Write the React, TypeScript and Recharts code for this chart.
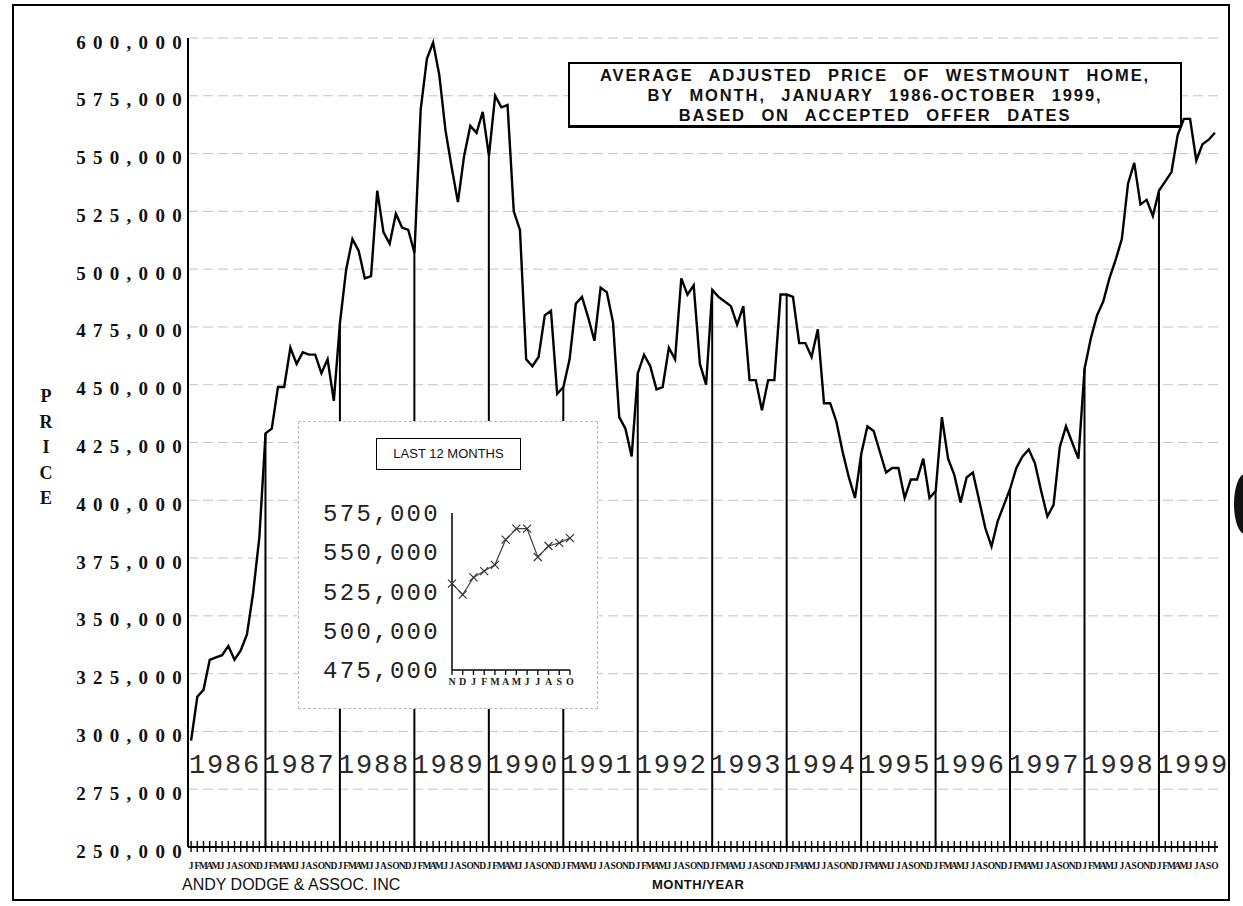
import React from 'react';
import { ComposedChart, LineChart, Line, Bar, XAxis, YAxis, CartesianGrid } from 'recharts';

// monthly average adjusted price, in thousands of dollars
const YEARS = [1986, 1987, 1988, 1989, 1990, 1991, 1992, 1993, 1994, 1995, 1996, 1997, 1998, 1999];
const MONTH_LETTERS = ['J', 'F', 'M', 'A', 'M', 'J', 'J', 'A', 'S', 'O', 'N', 'D'];

const PRICE_1986 = [296, 315, 318, 331, 332, 333, 337, 331, 335, 342, 360, 384];
const PRICE_1987 = [429, 431, 449, 449, 466, 459, 464, 463, 463, 455, 461, 443];
const PRICE_1988 = [477, 500, 513, 508, 496, 497, 534, 516, 511, 524, 518, 517];
const PRICE_1989 = [507, 569, 591, 598, 584, 560, 544, 529, 549, 562, 559, 568];
const PRICE_1990 = [549, 575, 570, 571, 525, 517, 461, 458, 462, 480, 482, 446];
const PRICE_1991 = [449, 461, 485, 488, 479, 469, 492, 490, 477, 436, 431, 419];
const PRICE_1992 = [455, 463, 458, 448, 449, 466, 461, 496, 489, 493, 459, 450];
const PRICE_1993 = [491, 488, 486, 484, 476, 484, 452, 452, 439, 452, 452, 489];
const PRICE_1994 = [489, 488, 468, 468, 462, 474, 442, 442, 434, 421, 410, 401];
const PRICE_1995 = [420, 432, 430, 421, 412, 414, 414, 401, 409, 409, 418, 401];
const PRICE_1996 = [404, 436, 418, 411, 399, 410, 412, 400, 388, 380, 391, 398];
const PRICE_1997 = [405, 414, 419, 422, 416, 404, 393, 398, 423, 432, 425, 418];
const PRICE_1998 = [457, 470, 480, 486, 496, 504, 513, 537, 546, 528, 530, 523];
const PRICE_1999 = [534, 538, 542, 558, 565, 565, 547, 554, 556, 559];

const PRICES_BY_YEAR = [
  PRICE_1986, PRICE_1987, PRICE_1988, PRICE_1989, PRICE_1990, PRICE_1991, PRICE_1992,
  PRICE_1993, PRICE_1994, PRICE_1995, PRICE_1996, PRICE_1997, PRICE_1998, PRICE_1999,
];

const PRICE_TICKS = [250000, 275000, 300000, 325000, 350000, 375000, 400000, 425000, 450000, 475000, 500000, 525000, 550000, 575000, 600000];
const INSET_TICKS = [475000, 500000, 525000, 550000, 575000];
const INSET_MONTHS = ['N', 'D', 'J', 'F', 'M', 'A', 'M', 'J', 'J', 'A', 'S', 'O'];

const rows = PRICES_BY_YEAR.flatMap((list, yi) =>
  list.map((k, m) => ({
    idx: yi * 12 + m,
    year: YEARS[yi],
    month: m,
    price: k * 1000,
    jan: m === 0 && yi > 0 ? k * 1000 : null,
  }))
);

const insetRows = rows.slice(-12).map((r, i) => ({ m: INSET_MONTHS[i], price: r.price }));

const fmt = (v: number) => v.toLocaleString('en-US');

const PriceTick = (props: any) => {
  const { y, payload } = props;
  return (
    <text x={189} y={y + 10.5} textAnchor="end" fontFamily="Liberation Serif" fontWeight="bold"
      fontSize={19} letterSpacing={7.3} fill="#111">
      {fmt(payload.value)}
    </text>
  );
};

const MonthTick = (props: any) => {
  const { x, y, payload } = props;
  const row = rows[payload.value];
  if (!row) return null;
  return (
    <g>
      <line x1={x} x2={x} y1={y - 6} y2={y + 5} stroke="#000" strokeWidth={1.4} />
      <text x={x} y={y + 22} textAnchor="middle" fontSize={9.5} fontWeight="bold" fontFamily="Liberation Serif" fill="#111">
        {MONTH_LETTERS[row.month]}
      </text>
      {row.month === 0 && (
        <text x={x - 2} y={y - 74} fontFamily="Liberation Mono" fontSize={27} letterSpacing={1.8} fill="#2a2a2a">
          {row.year}
        </text>
      )}
    </g>
  );
};

const InsetPriceTick = (props: any) => {
  const { y, payload } = props;
  return (
    <text x={142} y={y + 8} textAnchor="end" fontFamily="Liberation Mono" fontSize={24}
      letterSpacing={2.3} fill="#222">
      {fmt(payload.value)}
    </text>
  );
};

const InsetMonthTick = (props: any) => {
  const { x, y, payload } = props;
  return (
    <text x={x} y={y + 9} textAnchor="middle" fontFamily="Liberation Serif" fontWeight="bold" fontSize={10} fill="#222">
      {payload.value}
    </text>
  );
};

const CrossDot = (props: any) => {
  const { cx, cy, index } = props;
  if (cx == null || cy == null) return null;
  return (
    <path key={`x-${index}`} d={`M${cx - 4},${cy - 4}L${cx + 4},${cy + 4}M${cx + 4},${cy - 4}L${cx - 4},${cy + 4}`}
      stroke="#333" strokeWidth={1.2} fill="none" />
  );
};

const abs = (s: React.CSSProperties): React.CSSProperties => ({ position: 'absolute', ...s });

export default function App() {
  return (
    <div style={{ position: 'absolute', left: 0, top: 0, width: 1243, height: 906, background: '#fff', overflow: 'hidden' }}>
      <ComposedChart width={1243} height={906} data={rows} margin={{ top: 38, right: 25, left: 0, bottom: 29 }}>
        <CartesianGrid vertical={false} stroke="#c4c4c4" strokeDasharray="10 5" />
        <YAxis domain={[250000, 600000]} ticks={PRICE_TICKS} width={188} interval={0}
          axisLine={{ stroke: '#000', strokeWidth: 2 }} tickLine={false} tickSize={0} tickMargin={0}
          tick={<PriceTick />} />
        <XAxis dataKey="idx" height={30} interval={0} axisLine={{ stroke: '#000', strokeWidth: 2 }}
          tickLine={false} tickSize={0} tickMargin={0} tick={<MonthTick />} />
        <Bar dataKey="jan" fill="#000" barSize={2} isAnimationActive={false} />
        <Line type="linear" dataKey="price" stroke="#000" strokeWidth={2.4} dot={false} isAnimationActive={false} />
      </ComposedChart>

      {/* outer frame */}
      <div style={abs({ left: 12, top: 4, width: 1218, height: 897, border: '2px solid #000', boxSizing: 'border-box', pointerEvents: 'none' })} />

      {/* title */}
      <div style={abs({
        left: 568, top: 62, width: 614, height: 66, border: '2px solid #000', borderBottomWidth: 3, boxSizing: 'border-box',
        background: '#fff', fontFamily: 'Liberation Sans', fontWeight: 'bold', fontSize: 16.5, textAlign: 'center',
        lineHeight: '20px', paddingTop: 1, letterSpacing: 1.9, wordSpacing: 9, color: '#111', whiteSpace: 'nowrap',
      })}>
        AVERAGE ADJUSTED PRICE OF WESTMOUNT HOME,<br />
        BY MONTH, JANUARY 1986-OCTOBER 1999,<br />
        BASED ON ACCEPTED OFFER DATES
      </div>

      {/* y axis title */}
      <div style={abs({
        left: 36, top: 384, width: 20, fontFamily: 'Liberation Serif', fontWeight: 'bold', fontSize: 18,
        lineHeight: '25.5px', textAlign: 'center', color: '#111',
      })}>
        P<br />R<br />I<br />C<br />E
      </div>

      {/* footer */}
      <div style={abs({ left: 182, top: 876, fontFamily: 'Liberation Sans', fontSize: 16, lineHeight: '18px', color: '#111', whiteSpace: 'nowrap' })}>
        ANDY DODGE &amp; ASSOC. INC
      </div>
      <div style={abs({ left: 652, top: 877, fontFamily: 'Liberation Sans', fontWeight: 'bold', fontSize: 13, lineHeight: '16px', letterSpacing: 0.5, color: '#111', whiteSpace: 'nowrap' })}>
        MONTH/YEAR
      </div>

      {/* last 12 months inset */}
      <div style={abs({ left: 298, top: 421, width: 300, height: 288, background: '#fff', border: '1px dashed #bbb', boxSizing: 'border-box' })}>
        <div style={abs({
          left: 77, top: 16, width: 145, height: 32, border: '1.5px solid #000', boxSizing: 'border-box',
          fontFamily: 'Liberation Sans', fontSize: 13, lineHeight: '29px', textAlign: 'center', color: '#111',
        })}>
          LAST 12 MONTHS
        </div>
        <div style={abs({ left: -1, top: -1 })}>
          <LineChart width={300} height={288} data={insetRows} margin={{ top: 92, right: 28, left: 0, bottom: 9 }}>
            <YAxis domain={[475000, 575000]} ticks={INSET_TICKS} width={154} interval={0}
              axisLine={{ stroke: '#000', strokeWidth: 1.5 }} tickLine={false} tickSize={0} tickMargin={0}
              tick={<InsetPriceTick />} />
            <XAxis dataKey="m" height={30} interval={0} axisLine={{ stroke: '#000', strokeWidth: 1.5 }}
              tickLine={{ stroke: '#000', strokeWidth: 1.3 }} tickSize={5} tickMargin={1} tick={<InsetMonthTick />} />
            <Line type="linear" dataKey="price" stroke="#444" strokeWidth={1.2} dot={<CrossDot />} isAnimationActive={false} />
          </LineChart>
        </div>
      </div>

      {/* scan blot on the right edge */}
      <div style={abs({ left: 1234, top: 474, width: 22, height: 60, borderRadius: '50%', background: '#111' })} />
    </div>
  );
}
